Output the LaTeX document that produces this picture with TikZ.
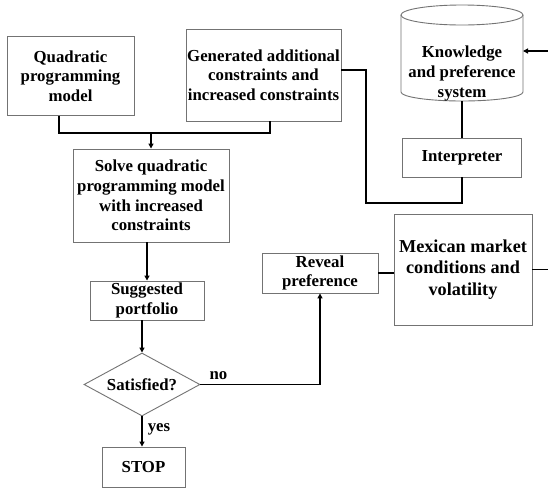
\documentclass[tikz,border=0pt]{standalone}
\usepackage{fontspec}
\setmainfont{Liberation Serif}
\usetikzlibrary{arrows.meta,shapes.geometric}
\begin{document}
\begin{tikzpicture}[x=1pt,y=-1pt,
  txt/.style={font=\bfseries\fontsize{16.8}{19.7}\selectfont, align=center, inner sep=0pt},
  box/.style={txt, draw=black!55, line width=0.9pt},
  conn/.style={line width=1.4pt, draw=black},
  arr/.style={conn, -{Triangle[length=5pt,width=5pt]}}]
\useasboundingbox[fill=white] (0,0) rectangle (548,488);

% boxes
\node[box, minimum width=127pt, minimum height=79pt] (quad) at (70.5,76) {Quadratic\\programming\\model};
\node[box, minimum width=155pt, minimum height=92pt] (gen) at (263.5,75) {Generated additional\\constraints and\\increased constraints};
\node[box, minimum width=156pt, minimum height=93pt] (solve) at (151,195.5) {Solve quadratic\\programming model\\with increased\\constraints};
\node[box, minimum width=114pt, minimum height=39pt] (sugg) at (147,300.5) {Suggested\\portfolio};
\node[box, diamond, aspect=2.2, minimum width=116pt, minimum height=63pt] (sat) at (142,384.5) {Satisfied?};
\node[box, minimum width=83pt, minimum height=40pt] (stop) at (143.5,467) {STOP};
\node[box, minimum width=116pt, minimum height=40pt] (reveal) at (320,273) {Reveal\\preference};
\node[box, minimum width=138pt, minimum height=111pt, font=\bfseries\fontsize{18.2}{21.3}\selectfont] (mex) at (463,269.5) {Mexican market\\conditions and\\volatility};
\node[box, minimum width=119pt, minimum height=39pt] (interp) at (462,157.5) {Interpreter};

% cylinder (knowledge base)
\draw[draw=black!55, line width=0.9pt, fill=white] (401,15) -- (401,92)
  arc[start angle=180, end angle=360, x radius=61pt, y radius=9pt] -- (523,15);
\draw[draw=black!55, line width=0.9pt] (462,15) ellipse [x radius=61pt, y radius=10pt];
\node[txt] (kps) at (462,73.5) {Knowledge\\and preference\\system};
\coordinate (cylbot) at (462,101);
\coordinate (cylright) at (523,51);

% connectors
\coordinate (join) at (151,133);
\draw[conn] ([xshift=-11.5pt]quad.south) |- (join) -| ([xshift=6.5pt]gen.south);
\draw[arr] (join) -- (solve.north);
\draw[arr] (solve.south -| sugg.north) -- (sugg.north);
\draw[arr] (sugg.south -| sat.north) -- (sat.north);
\draw[arr] (sat.south) -- (sat.south |- stop.north);
\node[txt] (yes) at (159,429) {yes};
\draw[arr] (sat.east) -| (reveal.south);
\node[txt] (no) at (218.5,376) {no};
\draw[conn] (reveal.east) -- (reveal.east -| mex.west);
\draw[arr] (mex.east) -- ++(20,0) |- (cylright);
\coordinate (bend) at (366,203);
\draw[conn] ([yshift=5pt]gen.east) -| (bend) -| (interp.south);
\draw[conn] (interp.north) -- (cylbot);
\end{tikzpicture}
\end{document}
